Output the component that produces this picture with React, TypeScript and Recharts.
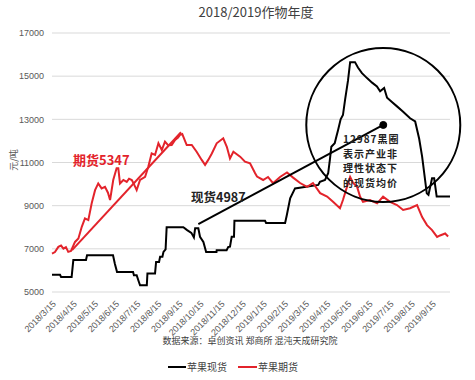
import React from 'react';
import { LineChart, Line, XAxis, YAxis, CartesianGrid, ReferenceLine, ReferenceDot } from 'recharts';

// 横轴刻度（每月15日）
const months = [
  '2018/3/15', '2018/4/15', '2018/5/15', '2018/6/15', '2018/7/15', '2018/8/15',
  '2018/9/15', '2018/10/15', '2018/11/15', '2018/12/15', '2019/1/15', '2019/2/15',
  '2019/3/15', '2019/4/15', '2019/5/15', '2019/6/15', '2019/7/15', '2019/8/15', '2019/9/15',
];
const yTicks = [5000, 7000, 9000, 11000, 13000, 15000, 17000];

// 苹果现货：时间（距2018/3/15的月数）与价格
const spotT = [
  0, 0.38, 0.43, 0.93, 1.01, 1.61, 1.66, 2.89, 2.98, 3.08, 3.84, 3.88, 4.01, 4.12, 4.17, 4.49,
  4.52, 4.88, 4.93, 5.07, 5.12, 5.23, 5.28, 5.38, 5.43, 6.22, 6.4, 6.6, 6.72, 6.78, 6.93, 7.01,
  7.17, 7.3, 7.79, 7.8, 8.27, 8.35, 8.43, 8.51, 8.62, 8.64, 10.09, 10.14, 11.04, 11.12, 11.28,
  11.51, 12.61, 12.69, 12.93, 13.08, 13.16, 13.23, 13.39, 13.47, 13.55, 13.67, 13.78, 13.88,
  14.02, 14.12, 14.35, 14.49, 14.68, 14.92, 15.16, 15.39, 15.54, 15.73, 15.87, 16.1, 16.34,
  16.63, 16.96, 17.2, 17.39, 17.53, 17.75, 17.83, 18.0, 18.1, 18.22, 18.85,
];
const spotV = [
  5800, 5800, 5700, 5700, 6480, 6480, 6700, 6700, 6300, 5930, 5930, 5780, 5780, 5450, 5310, 5310,
  5860, 5860, 6390, 6390, 6630, 6630, 6860, 6980, 8000, 8000, 7870, 7740, 7530, 7950, 7950, 7560,
  7320, 6850, 6850, 6940, 6940, 7090, 7100, 7560, 7560, 8300, 8300, 8200, 8200, 8560, 9340,
  9800, 9960, 10110, 10190, 10500, 11120, 11730, 11890, 12200, 12510, 13000, 13200, 13900,
  14800, 15650, 15650, 15400, 15140, 14910, 14700, 14520, 14300, 14450, 14000, 13800, 13600,
  13350, 13050, 12900, 12100, 11270, 9570, 9500, 10270, 10270, 9420, 9420,
];

// 苹果期货
const futT = [
  0, 0.14, 0.3, 0.43, 0.54, 0.66, 0.77, 0.9, 1.09, 1.25, 1.41, 1.56, 1.72, 1.88, 2.04, 2.19,
  2.35, 2.51, 2.65, 2.75, 2.9, 3.06, 3.14, 3.22, 3.38, 3.54, 3.65, 3.78, 3.88, 4.01, 4.17, 4.41,
  4.56, 4.72, 4.88, 5.04, 5.2, 5.35, 5.5, 5.67, 5.83, 5.97, 6.06, 6.17, 6.38, 6.62, 6.85, 7.09,
  7.25, 7.4, 7.57, 7.8, 8.11, 8.28, 8.43, 8.59, 8.91, 9.14, 9.38, 9.62, 9.71, 10.0, 10.23,
  10.47, 10.8, 11.13, 11.42, 11.75, 12.08, 12.36, 12.7, 13.03, 13.31, 13.64, 13.78, 13.97,
  14.12, 14.26, 14.45, 14.59, 14.73, 15.06, 15.4, 15.68, 16.01, 16.34, 16.63, 16.96, 17.29,
  17.53, 17.76, 18.0, 18.24, 18.38, 18.62, 18.76,
];
const futV = [
  6780, 6850, 7090, 7150, 7010, 7080, 6860, 6900, 7320, 7480, 8020, 8410, 8330, 9110, 9720, 10030,
  9800, 9870, 9600, 9260, 10190, 10730, 10730, 10030, 10190, 10100, 10250, 10190, 10000, 9720,
  10190, 10340, 10800, 11420, 11350, 11890, 11580, 11970, 11800, 11810, 12040, 12150, 12280,
  12320, 11810, 11810, 11500, 11120, 10890, 11120, 11420, 11890, 12120, 11730, 11190, 11500,
  11270, 11040, 10960, 10500, 10350, 10190, 10330, 10040, 10330, 10540, 10300, 10050, 9870,
  10050, 9580, 9420, 9180, 8880, 9260, 9870, 10330, 10050, 9870, 9420, 9180, 9260, 9110, 9420,
  9180, 9030, 8800, 8880, 9030, 8470, 8100, 7870, 7550, 7620, 7710, 7570,
];

const spotData = spotT.map((m, i) => ({ m, v: spotV[i] }));
const futData = futT.map((m, i) => ({ m, v: futV[i] }));

// 黑圈说明文字
const noteLines = ['12987黑圈', '表示产业非', '理性状态下', '的现货均价'];

const RED = '#e3232b';
const CJK = '"Noto Sans CJK SC", sans-serif';

export default function App() {
  return (
    <div style={{ position: 'absolute', left: 0, top: 0, width: 475, height: 380, background: '#fff' }}>
      <LineChart width={475} height={380} margin={{ top: 33, right: 25, left: 0, bottom: 43 }}>
        <CartesianGrid vertical={false} stroke="#d9d9d9" />
        <XAxis
          dataKey="m"
          type="number"
          domain={[0, 18.85]}
          ticks={months.map((_, i) => i)}
          tickFormatter={(i) => months[i]}
          interval={0}
          axisLine={false}
          tickLine={false}
          angle={-45}
          textAnchor="end"
          height={45}
          tick={{ fontSize: 9, fill: '#595959', fontFamily: '"Liberation Sans", Arial' }}
        />
        <YAxis
          domain={[5000, 17000]}
          ticks={yTicks}
          width={52}
          axisLine={false}
          tickLine={false}
          tick={{ fontSize: 9, fill: '#595959', fontFamily: '"Liberation Sans", Arial' }}
        />
        <Line data={spotData} dataKey="v" stroke="#000" strokeWidth={2} dot={false} isAnimationActive={false} />
        <Line data={futData} dataKey="v" stroke={RED} strokeWidth={2} dot={false} isAnimationActive={false} />
        <ReferenceLine segment={[{ x: 0.95, y: 6940 }, { x: 6.11, y: 12400 }]} stroke={RED} strokeWidth={2} />
        <ReferenceLine segment={[{ x: 6.93, y: 8150 }, { x: 15.69, y: 12740 }]} stroke="#000" strokeWidth={2} />
        <ReferenceDot x={15.69} y={12740} r={3.5} fill="#000" stroke="#000" />
        <ReferenceDot x={15.69} y={12740} r={77} fill="none" stroke="#000" strokeWidth={2} />
      </LineChart>
      <svg width={475} height={380} style={{ position: 'absolute', left: 0, top: 0, pointerEvents: 'none' }}>
        <text x={256} y={17} textAnchor="middle" fontSize={13} fill="#404040" fontFamily={CJK}>2018/2019作物年度</text>
        <text transform="translate(17,160) rotate(-90)" textAnchor="middle" fontSize={9} fill="#595959" fontFamily={CJK}>元/吨</text>
        <text x={73} y={165} fontSize={13} fontWeight={700} fill={RED} fontFamily={CJK}>期货5347</text>
        <text x={191} y={202} fontSize={12.5} fontWeight={700} fill="#222" fontFamily={CJK}>现货4987</text>
        <g fontSize={10} fontWeight={700} fill="#222" fontFamily={CJK} letterSpacing={1}>
          {noteLines.map((t, i) => (
            <text key={t} x={343} y={143 + i * 14.7}>{t}</text>
          ))}
        </g>
        <text x={250} y={344} textAnchor="middle" fontSize={9} fill="#404040" fontFamily={CJK}>数据来源：卓创资讯 郑商所 混沌天成研究院</text>
        <line x1={168} y1={367} x2={186} y2={367} stroke="#000" strokeWidth={2} />
        <text x={187} y={371} fontSize={10} fill="#404040" fontFamily={CJK}>苹果现货</text>
        <line x1={238} y1={367} x2={257} y2={367} stroke={RED} strokeWidth={2} />
        <text x={258} y={371} fontSize={10} fill="#404040" fontFamily={CJK}>苹果期货</text>
      </svg>
    </div>
  );
}
